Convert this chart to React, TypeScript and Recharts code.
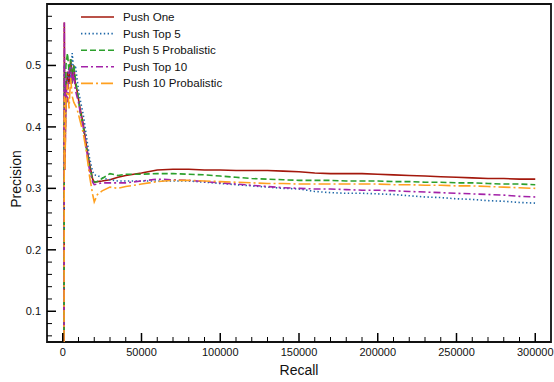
import { LineChart, Line, XAxis, YAxis, Legend, ReferenceArea } from 'recharts';

const RECALL = [
  800, 1000, 1400, 2000, 3000, 4000, 5000, 6000, 7000, 8000, 9000, 10000, 11000,
  13000, 15000, 17000, 19000, 20000, 22000, 25000, 30000, 35000, 40000, 50000, 60000,
  70000, 80000, 90000, 100000, 110000, 120000, 130000, 140000, 150000, 160000, 170000,
  180000, 190000, 200000, 210000, 220000, 230000, 240000, 250000, 260000, 270000,
  280000, 290000, 300000,
];

const PUSH_ONE = [
  0.05, 0.57, 0.34, 0.45, 0.49, 0.47, 0.51, 0.48, 0.50, 0.47, 0.46, 0.445, 0.43,
  0.405, 0.37, 0.34, 0.315, 0.31, 0.311, 0.312, 0.314, 0.318, 0.321, 0.325, 0.330,
  0.331, 0.331, 0.330, 0.330, 0.329, 0.329, 0.329, 0.328, 0.327, 0.325, 0.324,
  0.324, 0.324, 0.323, 0.322, 0.321, 0.320, 0.319, 0.318, 0.317, 0.316,
  0.316, 0.315, 0.315,
];

const PUSH_TOP5 = [
  0.05, 0.50, 0.36, 0.46, 0.48, 0.50, 0.47, 0.52, 0.49, 0.50, 0.48, 0.46, 0.445,
  0.42, 0.385, 0.35, 0.327, 0.322, 0.321, 0.317, 0.314, 0.312, 0.312, 0.312, 0.312,
  0.312, 0.312, 0.310, 0.308, 0.306, 0.304, 0.302, 0.300, 0.299, 0.295, 0.293,
  0.292, 0.292, 0.291, 0.290, 0.288, 0.286, 0.285, 0.283, 0.282, 0.280,
  0.279, 0.277, 0.276,
];

const PUSH_PROB5 = [
  0.05, 0.48, 0.38, 0.50, 0.52, 0.49, 0.51, 0.47, 0.50, 0.48, 0.46, 0.445, 0.425,
  0.40, 0.365, 0.335, 0.313, 0.31, 0.311, 0.316, 0.324, 0.321, 0.323, 0.323, 0.324,
  0.324, 0.323, 0.322, 0.320, 0.318, 0.316, 0.315, 0.314, 0.313, 0.313, 0.313,
  0.312, 0.312, 0.312, 0.311, 0.311, 0.310, 0.310, 0.309, 0.309, 0.308,
  0.307, 0.307, 0.306,
];

const PUSH_TOP10 = [
  0.05, 0.57, 0.33, 0.47, 0.44, 0.49, 0.50, 0.47, 0.49, 0.46, 0.45, 0.44, 0.425,
  0.40, 0.365, 0.33, 0.31, 0.306, 0.307, 0.309, 0.309, 0.309, 0.309, 0.312, 0.315,
  0.314, 0.313, 0.311, 0.309, 0.307, 0.305, 0.303, 0.301, 0.300, 0.299, 0.299,
  0.298, 0.297, 0.297, 0.296, 0.295, 0.294, 0.293, 0.292, 0.291, 0.290,
  0.289, 0.287, 0.286,
];

const PUSH_PROB10 = [
  0.05, 0.45, 0.33, 0.44, 0.47, 0.43, 0.48, 0.45, 0.44, 0.435, 0.43, 0.42, 0.41,
  0.39, 0.36, 0.32, 0.29, 0.278, 0.29, 0.296, 0.302, 0.300, 0.303, 0.307, 0.311,
  0.313, 0.313, 0.312, 0.311, 0.310, 0.309, 0.308, 0.308, 0.307, 0.307, 0.307,
  0.307, 0.307, 0.307, 0.306, 0.306, 0.305, 0.305, 0.304, 0.304, 0.303,
  0.302, 0.301, 0.300,
];

const X_MAJOR = [0, 50000, 100000, 150000, 200000, 250000, 300000];
const Y_MAJOR = [0.1, 0.2, 0.3, 0.4, 0.5];
const X_TICKS = Array.from({ length: 31 }, (_, i) => i * 10000);
const Y_TICKS = Array.from({ length: 27 }, (_, i) => Math.round((0.06 + i * 0.02) * 100) / 100);

const SERIES = [
  { key: 'one', label: 'Push One', color: '#a3180c', dash: undefined, width: 1.6 },
  { key: 'top5', label: 'Push Top 5', color: '#1f68a8', dash: '1.4 2.4', width: 1.6 },
  { key: 'prob5', label: 'Push 5 Probalistic', color: '#2ca02c', dash: '6 3', width: 1.6 },
  { key: 'top10', label: 'Push Top 10', color: '#a322a8', dash: '7 3 2 3', width: 1.6 },
  { key: 'prob10', label: 'Push 10 Probalistic', color: '#ffa020', dash: '12 3 2 3', width: 1.6 },
] as const;

const data = RECALL.map((recall, i) => ({
  recall,
  one: PUSH_ONE[i],
  top5: PUSH_TOP5[i],
  prob5: PUSH_PROB5[i],
  top10: PUSH_TOP10[i],
  prob10: PUSH_PROB10[i],
}));

const FONT = '"Liberation Sans", Arial, Helvetica, sans-serif';

function XTick({ x, y, payload }: any) {
  const major = X_MAJOR.includes(payload.value);
  return (
    <g>
      <line x1={x} x2={x} y1={y} y2={y - (major ? 9 : 5)} stroke="#000" strokeWidth={major ? 1.5 : 1} />
      {major && (
        <text x={x} y={y + 14} textAnchor="middle" fontSize={11} fontFamily={FONT} fill="#111">
          {payload.value}
        </text>
      )}
    </g>
  );
}

function YTick({ x, y, payload }: any) {
  const v = payload.value;
  const major = Y_MAJOR.some((m) => Math.abs(m - v) < 1e-6);
  return (
    <g>
      <line x1={x} x2={x + (major ? 9 : 5)} y1={y} y2={y} stroke="#000" strokeWidth={major ? 1.5 : 1} />
      {major && (
        <text x={x - 6} y={y + 4} textAnchor="end" fontSize={11} fontFamily={FONT} fill="#111">
          {v.toFixed(1)}
        </text>
      )}
    </g>
  );
}

function LegendBox() {
  return (
    <svg width={150} height={85}>
      {SERIES.map((s, i) => (
        <g key={s.key} transform={`translate(0, ${i * 16.6})`}>
          <line x1={3} x2={36} y1={8} y2={8} stroke={s.color} strokeWidth={1.6} strokeDasharray={s.dash} />
          <text x={45} y={12} fontSize={11.6} fontFamily={FONT} fill="#111">
            {s.label}
          </text>
        </g>
      ))}
    </svg>
  );
}

export default function App() {
  return (
    <div style={{ position: 'absolute', left: 0, top: 0, width: 554, height: 382, background: '#fff' }}>
      <LineChart width={554} height={382} data={data} margin={{ top: 4, right: 3, left: 0, bottom: 0 }}>
        <XAxis
          type="number"
          dataKey="recall"
          domain={[-10000, 310000]}
          allowDataOverflow
          ticks={X_TICKS}
          interval={0}
          tick={<XTick />}
          tickLine={false}
          axisLine={false}
          tickSize={0}
          tickMargin={0}
          height={40}
          label={{ value: 'Recall', position: 'insideBottom', offset: 7, fontSize: 14, fontFamily: FONT, fill: '#111' }}
        />
        <YAxis
          type="number"
          domain={[0.05, 0.6]}
          allowDataOverflow
          ticks={Y_TICKS}
          interval={0}
          tick={<YTick />}
          tickLine={false}
          axisLine={false}
          tickSize={0}
          tickMargin={0}
          width={47}
          label={() => (
            <text
              x={21}
              y={179}
              transform="rotate(-90 21 179)"
              textAnchor="middle"
              fontSize={14}
              fontFamily={FONT}
              fill="#111"
            >
              Precision
            </text>
          )}
        />
        {SERIES.map((s) => (
          <Line
            key={s.key}
            type="linear"
            dataKey={s.key}
            name={s.label}
            stroke={s.color}
            strokeWidth={s.width}
            strokeDasharray={s.dash}
            dot={false}
            activeDot={false}
            isAnimationActive={false}
          />
        ))}
        <ReferenceArea
          x1={-10000}
          x2={310000}
          y1={0.05}
          y2={0.6}
          fill="none"
          stroke="#111"
          strokeWidth={1.8}
          ifOverflow="visible"
        />
        {/* horizontal + middle keeps the legend from reserving plot space */}
        <Legend
          layout="horizontal"
          verticalAlign="middle"
          align="center"
          content={<LegendBox />}
          wrapperStyle={{ position: 'absolute', top: 9, left: 78, width: 150, height: 85 }}
        />
      </LineChart>
    </div>
  );
}
